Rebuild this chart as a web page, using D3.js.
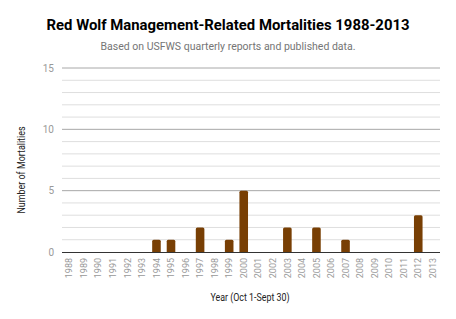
<!DOCTYPE html>
<html>
<head>
<meta charset="utf-8">
<script src="https://cdn.jsdelivr.net/npm/d3@7"></script>
<style>
  body { margin: 0; background: #fff; }
  text { font-family: Roboto, "Noto Sans", sans-serif; }
</style>
</head>
<body>
<div id="chart"></div>
<script>
// chart data
const years = ["1988","1989","1990","1991","1992","1993","1994","1995","1996","1997","1998","1999","2000",
  "2001","2002","2003","2004","2005","2006","2007","2008","2009","2010","2011","2012","2013"];
const mortalities = [0,0,0,0,0,0,1,1,0,2,0,1,5,0,0,2,0,2,0,1,0,0,0,0,3,0];
const majorTicks = [0, 5, 10, 15];

const width = 456, height = 319;
const margin = {top: 68, right: 16, bottom: 67, left: 62};

const svg = d3.select("#chart").append("svg")
  .attr("width", width)
  .attr("height", height);

const x = d3.scaleBand()
  .domain(years)
  .range([margin.left, width - margin.right])
  .paddingInner(0.41)
  .paddingOuter(0.2);

const y = d3.scaleLinear()
  .domain([0, 15])
  .range([height - margin.bottom, margin.top]);

// minor grid (every 1)
svg.append("g")
  .selectAll("line")
  .data(d3.range(1, 15).filter(v => v % 5 !== 0))
  .join("line")
  .attr("x1", margin.left).attr("x2", width - margin.right)
  .attr("y1", d => y(d)).attr("y2", d => y(d))
  .attr("stroke", "#dedede");

// major grid
svg.append("g")
  .selectAll("line")
  .data(majorTicks.filter(v => v > 0))
  .join("line")
  .attr("x1", margin.left).attr("x2", width - margin.right)
  .attr("y1", d => y(d)).attr("y2", d => y(d))
  .attr("stroke", "#a8a8a8");

// y axis labels
const yAxis = g => g
  .attr("transform", `translate(${margin.left},0)`)
  .call(d3.axisLeft(y).tickValues(majorTicks).tickSize(0).tickPadding(8))
  .call(g => g.select(".domain").remove())
  .call(g => g.selectAll("text")
    .attr("fill", "#999")
    .style("font-size", "10px"));
svg.append("g").call(yAxis);

// bars (pair each value with its year, skip zeros)
const bars = years.map((yr, i) => ({year: yr, value: mortalities[i]})).filter(d => d.value > 0);
const barPath = d => {
  const x0 = x(d.year), w = x.bandwidth();
  const y0 = y(0), y1 = y(d.value), r = Math.min(1.5, (y0 - y1) / 2);
  return `M${x0},${y0}V${y1 + r}Q${x0},${y1} ${x0 + r},${y1}H${x0 + w - r}Q${x0 + w},${y1} ${x0 + w},${y1 + r}V${y0}Z`;
};
svg.append("g")
  .attr("fill", "#783f04")
  .selectAll("path")
  .data(bars)
  .join("path")
  .attr("d", barPath);

// x axis
const xAxis = g => g
  .attr("transform", `translate(0,${y(0)})`)
  .call(d3.axisBottom(x).tickSize(0).tickSizeOuter(0))
  .call(g => g.select(".domain")
    .attr("d", `M${margin.left},0.5H${width - margin.right}`)
    .attr("stroke", "#333"))
  .call(g => g.selectAll(".tick text")
    .attr("transform", "rotate(-90)")
    .attr("text-anchor", "end")
    .attr("x", -6)
    .attr("y", 0)
    .attr("dy", "0.35em")
    .attr("fill", "#999")
    .style("font-size", "9px"));
svg.append("g").call(xAxis);

// titles
svg.append("text")
  .attr("x", 228).attr("y", 30)
  .attr("text-anchor", "middle")
  .attr("font-weight", "bold")
  .attr("font-size", "14px")
  .attr("fill", "#000")
  .attr("textLength", 363)
  .attr("lengthAdjust", "spacingAndGlyphs")
  .text("Red Wolf Management-Related Mortalities 1988-2013");

svg.append("text")
  .attr("x", 228).attr("y", 50)
  .attr("text-anchor", "middle")
  .attr("font-size", "10px")
  .attr("fill", "#757575")
  .attr("textLength", 255)
  .attr("lengthAdjust", "spacingAndGlyphs")
  .text("Based on USFWS quarterly reports and published data.");

svg.append("text")
  .attr("x", 250).attr("y", 301)
  .attr("text-anchor", "middle")
  .attr("font-size", "10px")
  .attr("fill", "#222")
  .attr("textLength", 79)
  .attr("lengthAdjust", "spacingAndGlyphs")
  .text("Year (Oct 1-Sept 30)");

svg.append("text")
  .attr("transform", `translate(25,${(y(0) + y(15)) / 2 + 10}) rotate(-90)`)
  .attr("text-anchor", "middle")
  .attr("font-size", "10px")
  .attr("fill", "#222")
  .attr("textLength", 87)
  .attr("lengthAdjust", "spacingAndGlyphs")
  .text("Number of Mortalities");
</script>
</body>
</html>
